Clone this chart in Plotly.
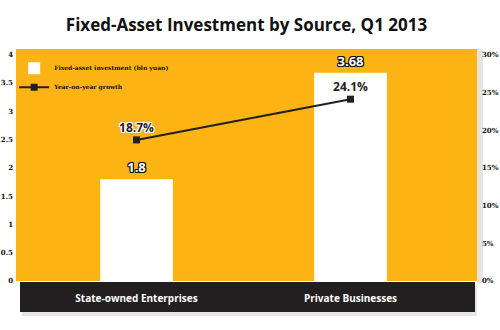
import plotly.graph_objects as go

categories = ["State-owned Enterprises", "Private Businesses"]
investment = [1.8, 3.68]
growth = [18.7, 24.1]
investment_labels = ["1.8", "3.68"]
growth_labels = ["18.7%", "24.1%"]
left_ticks = [0, 0.5, 1, 1.5, 2, 2.5, 3, 3.5, 4]
left_tick_text = ["0", "0.5", "1", "1.5", "2", "2.5", "3", "3.5", "4"]
right_ticks = [0, 5, 10, 15, 20, 25, 30]
right_tick_text = ["0%", "5%", "10%", "15%", "20%", "25%", "30%"]

ORANGE = "#FCB415"
DARK = "#231F20"
white_halo = "1px 1px 0 #fff, -1px -1px 0 #fff, 1px -1px 0 #fff, -1px 1px 0 #fff, 0 1px 0 #fff, 0 -1px 0 #fff, 1px 0 0 #fff, -1px 0 0 #fff"
black_halo = white_halo.replace("#fff", "#111")

fig = go.Figure()
fig.add_trace(go.Bar(
    x=categories, y=investment, name="Fixed-asset investment (bln yuan)",
    marker=dict(color="white", line=dict(width=0)), width=0.34,
    text=investment_labels, textposition="outside", cliponaxis=False,
    textfont=dict(family="Open Sans", size=13, color="white", weight="bold", shadow=black_halo),
))
fig.add_trace(go.Scatter(
    x=categories, y=growth, name="Year-on-year growth", yaxis="y2",
    mode="lines+markers+text", line=dict(color=DARK, width=2),
    marker=dict(symbol="square", size=7, color=DARK),
    text=growth_labels, textposition="top center", cliponaxis=False,
    textfont=dict(family="Open Sans", size=12, color=DARK, weight="bold", shadow=white_halo),
))

# soft shadows
fig.add_shape(type="rect", xref="paper", yref="paper", x0=1.0, x1=1.0 + 6/461,
              y0=-2/232, y1=1.0, fillcolor="rgba(0,0,0,0.10)", line=dict(width=0), layer="below")
fig.add_shape(type="rect", xref="paper", yref="paper", x0=6/461, x1=461/461,
              y0=-35/232, y1=-4/232, fillcolor="rgba(0,0,0,0.10)", line=dict(width=0), layer="below")
fig.add_shape(type="rect", xref="paper", yref="paper", x0=4/461, x1=459/461,
              y0=-31/232, y1=-1/232, fillcolor=DARK, line=dict(width=0), layer="below")

fig.update_layout(
    width=500, height=330,
    margin=dict(l=16, r=23, t=49, b=49),
    paper_bgcolor="white", plot_bgcolor=ORANGE,
    title=dict(text="Fixed-Asset Investment by Source, Q1 2013", x=0.5, xref="paper",
               y=0.925, yref="container", xanchor="center", yanchor="middle",
               font=dict(family="Open Sans", size=17, color="#111", weight="bold")),
    showlegend=True,
    legend=dict(x=-0.004, y=0.98, xanchor="left", yanchor="top", bgcolor="rgba(0,0,0,0)",
                font=dict(family="DejaVu Serif", size=6, color="#111", weight="bold"),
                tracegroupgap=0),
    bargap=0.5,
    xaxis=dict(range=[-0.563, 1.591], showgrid=False, zeroline=False, showline=False,
               automargin=False,
               ticks="outside", ticklen=8, tickcolor="rgba(0,0,0,0)",
               tickfont=dict(family="Open Sans", size=10, color="white", weight="bold")),
    yaxis=dict(range=[0, 4.1], tickvals=left_ticks, ticktext=left_tick_text,
               showgrid=False, zeroline=False, showline=False, ticklabelstandoff=2,
               automargin=False,
               tickfont=dict(family="DejaVu Serif", size=7, color="#111", weight="bold")),
    yaxis2=dict(range=[0, 30.75], overlaying="y", side="right", tickvals=right_ticks,
                ticktext=right_tick_text, showgrid=False, zeroline=False, showline=False,
                ticklabelstandoff=4, automargin=False,
                tickfont=dict(family="DejaVu Serif", size=7, color="#111", weight="bold")),
)

fig.write_html("out.html")
